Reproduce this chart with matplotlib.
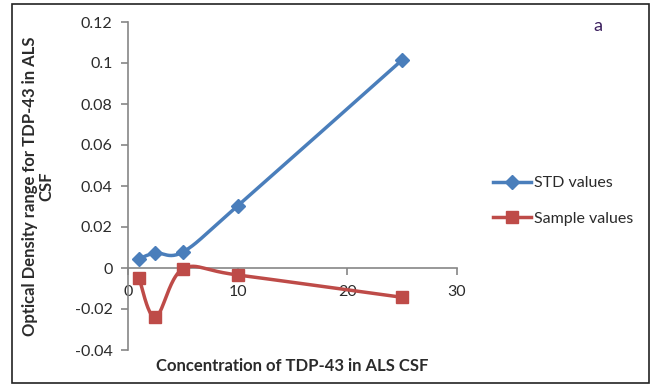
import numpy as np
import matplotlib
matplotlib.use("Agg")
import matplotlib.pyplot as plt
from matplotlib.lines import Line2D
from matplotlib.patches import Rectangle

plt.rcParams['font.family'] = ['Lato', 'DejaVu Sans']

# Data
concentration = [1, 2.5, 5, 10, 25]
std_values = [0.0045, 0.0073, 0.0078, 0.0303, 0.1015]
sample_values = [-0.0049, -0.0240, -0.0005, -0.0034, -0.0143]

x_ticks = [0, 10, 20, 30]
y_ticks = [-0.04, -0.02, 0, 0.02, 0.04, 0.06, 0.08, 0.1, 0.12]
y_tick_labels = ['-0.04', '-0.02', '0', '0.02', '0.04', '0.06', '0.08', '0.1', '0.12']

BLUE = '#4A7EBB'
RED = '#BE4B48'
AXIS_GRAY = '#868686'
TEXT = '#2b2b2b'


def smooth(xs, ys, n=40):
    """Cubic Bezier smoothing through every point (Catmull-Rom style)."""
    p = np.column_stack([xs, ys]).astype(float)
    ext = np.vstack([p[0], p, p[-1]])
    out = [p[:1]]
    t = np.linspace(0, 1, n)[1:, None]
    for i in range(len(p) - 1):
        p0, p1, p2, p3 = ext[i], ext[i + 1], ext[i + 2], ext[i + 3]
        c1 = p1 + (p2 - p0) / 6.0
        c2 = p2 - (p3 - p1) / 6.0
        seg = ((1 - t) ** 3) * p1 + 3 * ((1 - t) ** 2) * t * c1 + 3 * (1 - t) * t ** 2 * c2 + t ** 3 * p2
        out.append(seg)
    pts = np.vstack(out)
    return pts[:, 0], pts[:, 1]


fig = plt.figure(figsize=(6.53, 3.87), dpi=100)
fig.patches.append(Rectangle((12 / 653, 1 - 383 / 387), 637 / 653, 379 / 387,
                             transform=fig.transFigure, fill=False,
                             edgecolor='#222222', linewidth=1.2))

ax = fig.add_axes([128 / 653, 1 - 350 / 387, (457 - 128) / 653, (350 - 22) / 387])

sx, sy = smooth(concentration, std_values)
ax.plot(sx, sy, color=BLUE, linewidth=2.5, solid_capstyle='round', zorder=3)
ax.plot(concentration, std_values, linestyle='none', marker='D', markersize=7,
        color=BLUE, zorder=4)

rx, ry = smooth(concentration, sample_values)
ax.plot(rx, ry, color=RED, linewidth=2.5, solid_capstyle='round', zorder=3)
ax.plot(concentration, sample_values, linestyle='none', marker='s', markersize=9,
        color=RED, zorder=4)

ax.set_xlim(0, 30)
ax.set_ylim(-0.04, 0.12)
ax.set_xticks(x_ticks)
ax.set_yticks(y_ticks)
ax.set_yticklabels(y_tick_labels)

ax.spines['top'].set_visible(False)
ax.spines['right'].set_visible(False)
ax.spines['bottom'].set_position(('data', 0))
for s in ('left', 'bottom'):
    ax.spines[s].set_color(AXIS_GRAY)
    ax.spines[s].set_linewidth(1.2)
ax.tick_params(axis='both', colors=AXIS_GRAY, labelcolor=TEXT, labelsize=11.5,
               length=5, width=1.2)
ax.tick_params(axis='x', direction='out', pad=7)
ax.tick_params(axis='y', direction='out', pad=6)
ax.patch.set_alpha(0)

fig.text(292 / 653, 1 - 366 / 387, 'Concentration of TDP-43 in ALS CSF',
         ha='center', va='center', fontsize=12, fontweight='bold', color=TEXT)
fig.text(38 / 653, 1 - 186 / 387, 'Optical Density range for TDP-43 in ALS\nCSF',
         ha='center', va='center', rotation=90, fontsize=12, fontweight='bold',
         color=TEXT, linespacing=1.05, multialignment='center')

fig.text(598 / 653, 1 - 26 / 387, 'a', ha='center', va='center', fontsize=13,
         color='#3B1F5E')

handles = [
    Line2D([], [], color=BLUE, linewidth=2.5, marker='D', markersize=7),
    Line2D([], [], color=RED, linewidth=2.5, marker='s', markersize=9),
]
fig.legend(handles, ['STD values', 'Sample values'], loc='center left',
           bbox_to_anchor=(493 / 653, 1 - 201 / 387), frameon=False,
           fontsize=11.5, handlelength=2.4, handletextpad=0.15,
           labelspacing=1.35, borderaxespad=0, borderpad=0,
           labelcolor=TEXT)

fig.savefig('out.png', dpi=100, facecolor='white')
